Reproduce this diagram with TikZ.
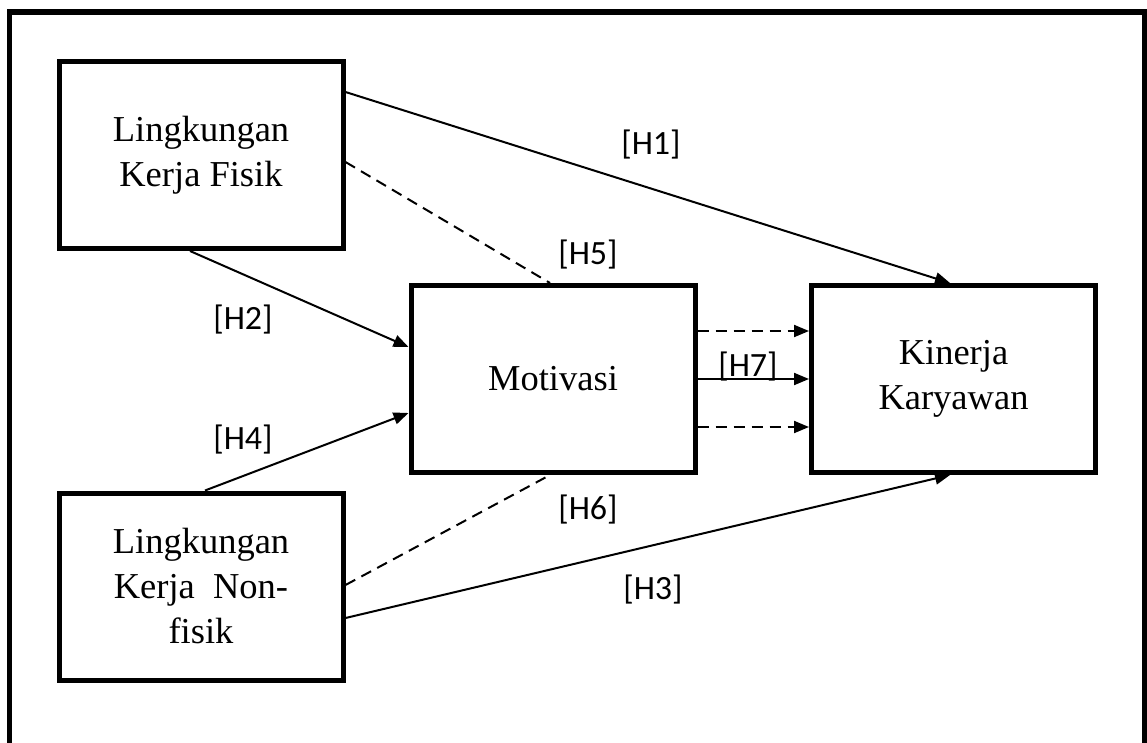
\documentclass[tikz,border=0pt]{standalone}
\usepackage{fontspec}
\setmainfont{Liberation Serif}
\newfontfamily\lblfont{Carlito}
\usetikzlibrary{arrows.meta}
\tikzset{
  box/.style={draw, line width=5pt, rectangle, minimum width=284pt, minimum height=187pt,
    inner sep=0pt, align=center, font=\fontsize{36.5}{45}\selectfont},
  conn/.style={line width=2pt},
  arr/.style={conn, -{Triangle[length=15pt,width=12pt]}},
  dsh/.style={conn, dash pattern=on 11pt off 7pt},
  lbl/.style={inner sep=0pt, font=\lblfont\fontsize{34}{40}\selectfont}
}
\begin{document}
\begin{tikzpicture}[x=1pt, y=-1pt]
\useasboundingbox (0,0) rectangle (1147,742);
\begin{scope}
\clip (0,0) rectangle (1147,742);
\draw[line width=5.5pt] (9.5,760) -- (9.5,12) -- (1144.5,12) -- (1144.5,760);
\end{scope}
\node[box] (lkf) at (201,155) {Lingkungan\\Kerja Fisik};
\node[box] (mot) at (553,379) {Motivasi};
\node[box] (kin) at (953.5,379) {Kinerja\\Karyawan};
\node[box] (lknf) at (201,586.5) {Lingkungan\\Kerja\ \ Non-\\fisik};
% connectors
\draw[arr] ([yshift=63pt]lkf.east) -- ([xshift=-3.5pt]kin.north);
\draw[dsh] ([yshift=-7pt]lkf.east) -- ([xshift=-3pt]mot.north);
\draw[arr] ([xshift=-11pt]lkf.south) -- ([yshift=32pt]mot.west);
\draw[arr] ([xshift=4pt]lknf.north) -- ([yshift=-34pt]mot.west);
\draw[dsh] ([yshift=1.5pt]lknf.east) -- ([xshift=-3pt]mot.south);
\draw[arr] ([yshift=-31.5pt]lknf.east) -- ([xshift=-3.5pt]kin.south);
\draw[arr, dash pattern=on 11pt off 7pt] ([yshift=48pt]mot.east) -- ([yshift=48pt]kin.west);
\draw[arr] (mot.east) -- (kin.west);
\draw[arr, dash pattern=on 11pt off 7pt] ([yshift=-48pt]mot.east) -- ([yshift=-48pt]kin.west);
% labels
\node[lbl] (h1) at (651,145) {[H1]};
\node[lbl] (h5) at (588,255) {[H5]};
\node[lbl] (h2) at (243,320) {[H2]};
\node[lbl] (h7) at (748,367) {[H7]};
\node[lbl] (h4) at (243,440) {[H4]};
\node[lbl] (h6) at (588,510) {[H6]};
\node[lbl] (h3) at (653,590) {[H3]};
\end{tikzpicture}
\end{document}
